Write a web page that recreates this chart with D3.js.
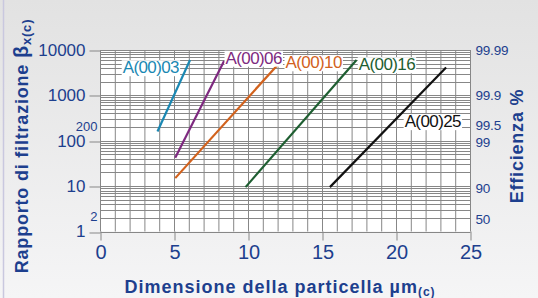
<!DOCTYPE html>
<html>
<head>
<meta charset="utf-8">
<script src="https://cdn.jsdelivr.net/npm/d3@7"></script>
<style>
  html, body { margin: 0; padding: 0; }
  body { width: 538px; height: 298px; overflow: hidden; }
  text { font-family: "Liberation Sans", Arial, Helvetica, sans-serif; }
</style>
</head>
<body>
<div id="chart"></div>
<script>
// Series: filter grade, start/end particle size (µm) and beta ratio
const series   = ["A(00)03", "A(00)06", "A(00)10", "A(00)16", "A(00)25"];
const xStart   = [3.85, 5.05, 5.05, 9.8, 15.5];
const xEnd     = [6.05, 8.35, 12.3, 17.3, 23.35];
const betaFrom = [160, 42, 15, 9.5, 9.5];
const betaTo   = [6000, 5700, 6200, 6000, 4100];

// Tick labels
const xTicks      = [0, 5, 10, 15, 20, 25];
const betaMajor   = [1, 10, 100, 1000, 10000];
const betaMinor   = [2, 200];
const effTicks    = [10000, 1000, 200, 100, 10, 2];
const effLabels   = ["99.99", "99.9", "99.5", "99", "90", "50"];

const colors = ["#1a88b3", "#7e2a80", "#d2621d", "#1e5e31", "#111111"];
// label anchor (left edge, vertical middle) in data units
const labelAt = [[1.5, 4200], [8.45, 6800], [12.5, 5400], [17.45, 4900], [20.55, 272]];
// small vertical nudges for the efficiency labels (px)
const effNudge = [0, 0, -2, 2, 2, 1];

const W = 538, H = 298;
const blue = "#1d3f8e";

const svg = d3.select("#chart").append("svg")
  .attr("width", W).attr("height", H);

// Background
const grad = svg.append("defs").append("linearGradient")
  .attr("id", "bg").attr("x1", 0).attr("y1", 0).attr("x2", 0).attr("y2", 1);
grad.append("stop").attr("offset", "0%").attr("stop-color", "#e2e2e2");
grad.append("stop").attr("offset", "100%").attr("stop-color", "#f5f5f6");
svg.append("rect").attr("width", W).attr("height", H).attr("fill", "url(#bg)");
svg.append("line").attr("x1", 3.5).attr("x2", 3.5).attr("y1", 0).attr("y2", H)
  .attr("stroke", "#c9c8df").attr("stroke-width", 1.5);

const x = d3.scaleLinear().domain([0, 25]).range([100.5, 470.5]);
const y = d3.scaleLog().domain([1, 10000]).range([231.5, 50]);

// Plot background
svg.append("rect")
  .attr("x", x(0)).attr("y", y(10000))
  .attr("width", x(25) - x(0)).attr("height", y(1) - y(10000))
  .attr("fill", "#fff");

// Grid
const grid = svg.append("g").attr("stroke", "#878787").attr("stroke-width", 1);
grid.selectAll(".vx").data(d3.range(0, 26)).join("line")
  .attr("x1", d => x(d)).attr("x2", d => x(d))
  .attr("y1", y(1)).attr("y2", y(10000));
const hVals = [];
for (let k = 0; k < 4; k++) for (let m = 1; m < 10; m++) hVals.push(m * Math.pow(10, k));
hVals.push(10000);
grid.selectAll(".hy").data(hVals).join("line")
  .attr("x1", x(0)).attr("x2", x(25))
  .attr("y1", d => Math.round(y(d)) + 0.5).attr("y2", d => Math.round(y(d)) + 0.5);

// Axes
const xAxis = svg.append("g")
  .attr("transform", `translate(0,${y(1)})`)
  .call(d3.axisBottom(x).tickValues(xTicks).tickSize(9).tickPadding(4));
xAxis.select(".domain").remove();
xAxis.selectAll("line").attr("stroke", "#878787");
xAxis.selectAll("text").attr("fill", blue).attr("font-size", 20);

const yAxis = svg.append("g")
  .attr("transform", `translate(${x(0)},0)`)
  .call(d3.axisLeft(y).tickValues(betaMajor).tickFormat(d3.format("d")).tickSize(11).tickPadding(4));
yAxis.select(".domain").remove();
yAxis.selectAll("line").attr("stroke", "#878787")
  .attr("transform", d => `translate(0,${Math.round(y(d)) + 0.5 - y(d)})`);
yAxis.selectAll("text").attr("fill", blue).attr("font-size", 17);

svg.append("g").selectAll("text").data(betaMinor).join("text")
  .attr("x", x(0) - 3).attr("y", d => y(d) - 1).attr("dy", "0.35em")
  .attr("text-anchor", "end").attr("fill", blue).attr("font-size", 13)
  .text(d => d);

// Right efficiency labels
svg.append("g").selectAll("text").data(effTicks).join("text")
  .attr("x", x(25) + 5).attr("y", (d, i) => y(d) + effNudge[i]).attr("dy", "0.35em")
  .attr("fill", blue).attr("font-size", 13.5).attr("letter-spacing", -0.2)
  .text((d, i) => effLabels[i]);

// Series lines
svg.append("g").selectAll("line").data(series).join("line")
  .attr("x1", (d, i) => x(xStart[i])).attr("y1", (d, i) => y(betaFrom[i]))
  .attr("x2", (d, i) => x(xEnd[i])).attr("y2", (d, i) => y(betaTo[i]))
  .attr("stroke", (d, i) => colors[i]).attr("stroke-width", 2.2);

// Series labels with white knock-out box
const labels = svg.append("g").selectAll("g").data(series).join("g");
labels.append("text")
  .attr("x", (d, i) => x(labelAt[i][0])).attr("y", (d, i) => y(labelAt[i][1]))
  .attr("dy", "0.36em").attr("font-size", 17).attr("letter-spacing", -0.6)
  .attr("fill", (d, i) => colors[i])
  .text(d => d);
labels.each(function() {
  const g = d3.select(this), b = g.select("text").node().getBBox();
  g.insert("rect", "text")
    .attr("x", b.x - 1).attr("y", b.y + 2).attr("width", b.width + 2).attr("height", b.height - 3)
    .attr("fill", "#fff");
});

// Axis titles
const xt = svg.append("text")
  .attr("x", 280).attr("y", 293).attr("text-anchor", "middle")
  .attr("fill", blue).attr("font-size", 18).attr("font-weight", "bold").attr("letter-spacing", 1);
xt.append("tspan").text("Dimensione della particella µm");
xt.append("tspan").attr("font-size", 12).attr("dy", 3).text("(c)");

const yt = svg.append("text")
  .attr("transform", "translate(28,146) rotate(-90)").attr("text-anchor", "middle")
  .attr("fill", blue).attr("font-size", 18).attr("font-weight", "bold").attr("letter-spacing", 0.8);
yt.append("tspan").text("Rapporto di filtrazione ");
yt.append("tspan").attr("font-size", 20).text("β");
yt.append("tspan").attr("font-size", 13).attr("dy", 3).text("x(c)");

svg.append("text")
  .attr("transform", "translate(523,146) rotate(-90)").attr("text-anchor", "middle")
  .attr("fill", blue).attr("font-size", 18).attr("font-weight", "bold").attr("letter-spacing", 0.8)
  .text("Efficienza %");
</script>
</body>
</html>
